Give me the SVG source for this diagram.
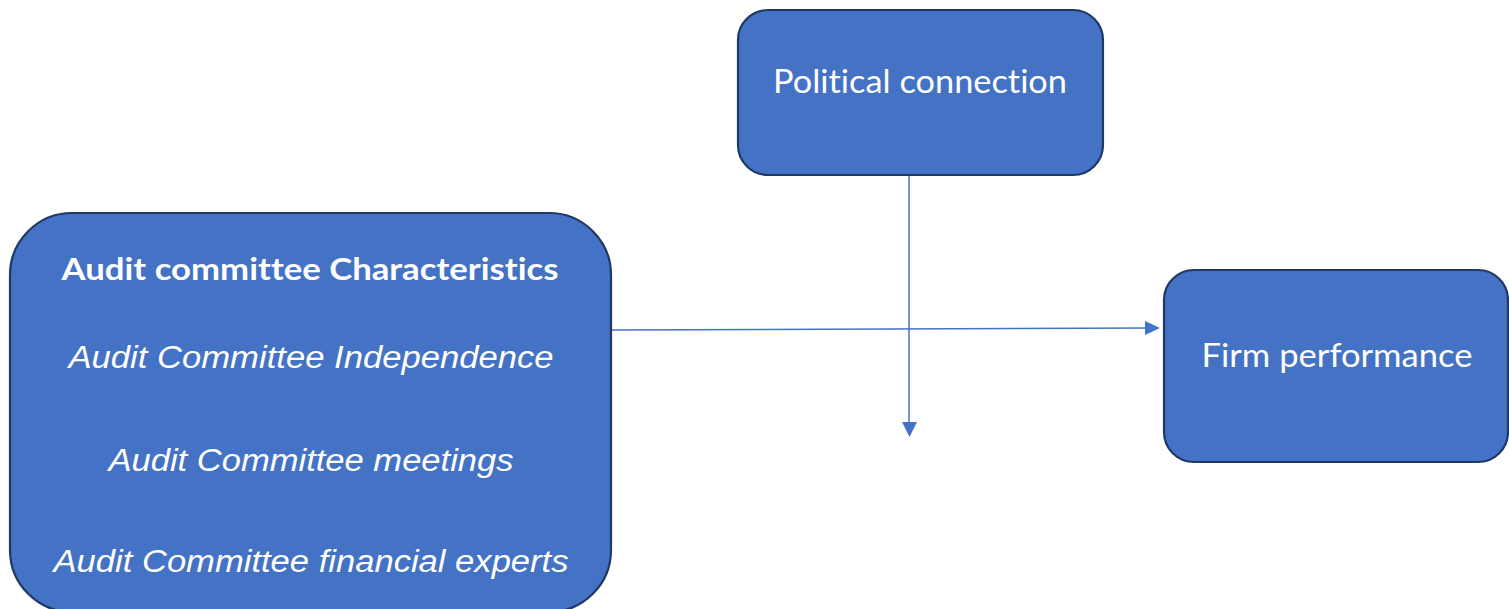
<svg xmlns="http://www.w3.org/2000/svg" width="1509" height="609" viewBox="0 0 1509 609">
  <defs>
    <style>
      .box { fill: #4472C4; stroke: #1F3864; stroke-width: 2.2; }
      .lbl { fill: #FFFFFF; font-family: Lato, "Open Sans", "Liberation Sans", sans-serif; text-anchor: middle; font-variant-ligatures: none; }
      .item { fill: #FFFFFF; font-family: "Liberation Sans", Arial, sans-serif; font-style: italic; font-size: 31px; text-anchor: middle; }
      .conn { stroke: #4472C4; stroke-width: 1.5; fill: none; }
      .head { fill: #4472C4; }
    </style>
  </defs>
  <rect width="1509" height="609" fill="#FFFFFF"/>

  <g id="connectors">
    <!-- characteristics to firm performance -->
    <line class="conn" x1="611" y1="330" x2="1147" y2="328"/>
    <path class="head" d="M1145,321 L1160,328 L1145,335 Z"/>
    <!-- political connection, moderating -->
    <line class="conn" x1="909" y1="176" x2="909" y2="424"/>
    <path class="head" d="M902,422 L917,422 L909.5,437 Z"/>
  </g>

  <g id="political-connection">
    <rect class="box" x="738" y="10" width="365" height="165" rx="30" ry="30"/>
    <text class="lbl" x="920" y="93" font-size="33" textLength="294" lengthAdjust="spacingAndGlyphs">Political connection</text>
  </g>

  <g id="audit-committee">
    <rect class="box" x="10" y="213" width="601" height="399" rx="62" ry="62"/>
    <text class="lbl" x="310" y="280" font-size="30" font-weight="bold" textLength="497" lengthAdjust="spacingAndGlyphs">Audit committee Characteristics</text>
    <text class="item" x="311" y="368" textLength="485" lengthAdjust="spacingAndGlyphs">Audit Committee Independence</text>
    <text class="item" x="311" y="471" textLength="405" lengthAdjust="spacingAndGlyphs">Audit Committee meetings</text>
    <text class="item" x="311" y="572" textLength="515" lengthAdjust="spacingAndGlyphs">Audit Committee financial experts</text>
  </g>

  <g id="firm-performance">
    <rect class="box" x="1164" y="270" width="344" height="192" rx="30" ry="30"/>
    <text class="lbl" x="1337" y="367" font-size="33" textLength="271" lengthAdjust="spacingAndGlyphs">Firm performance</text>
  </g>
</svg>
